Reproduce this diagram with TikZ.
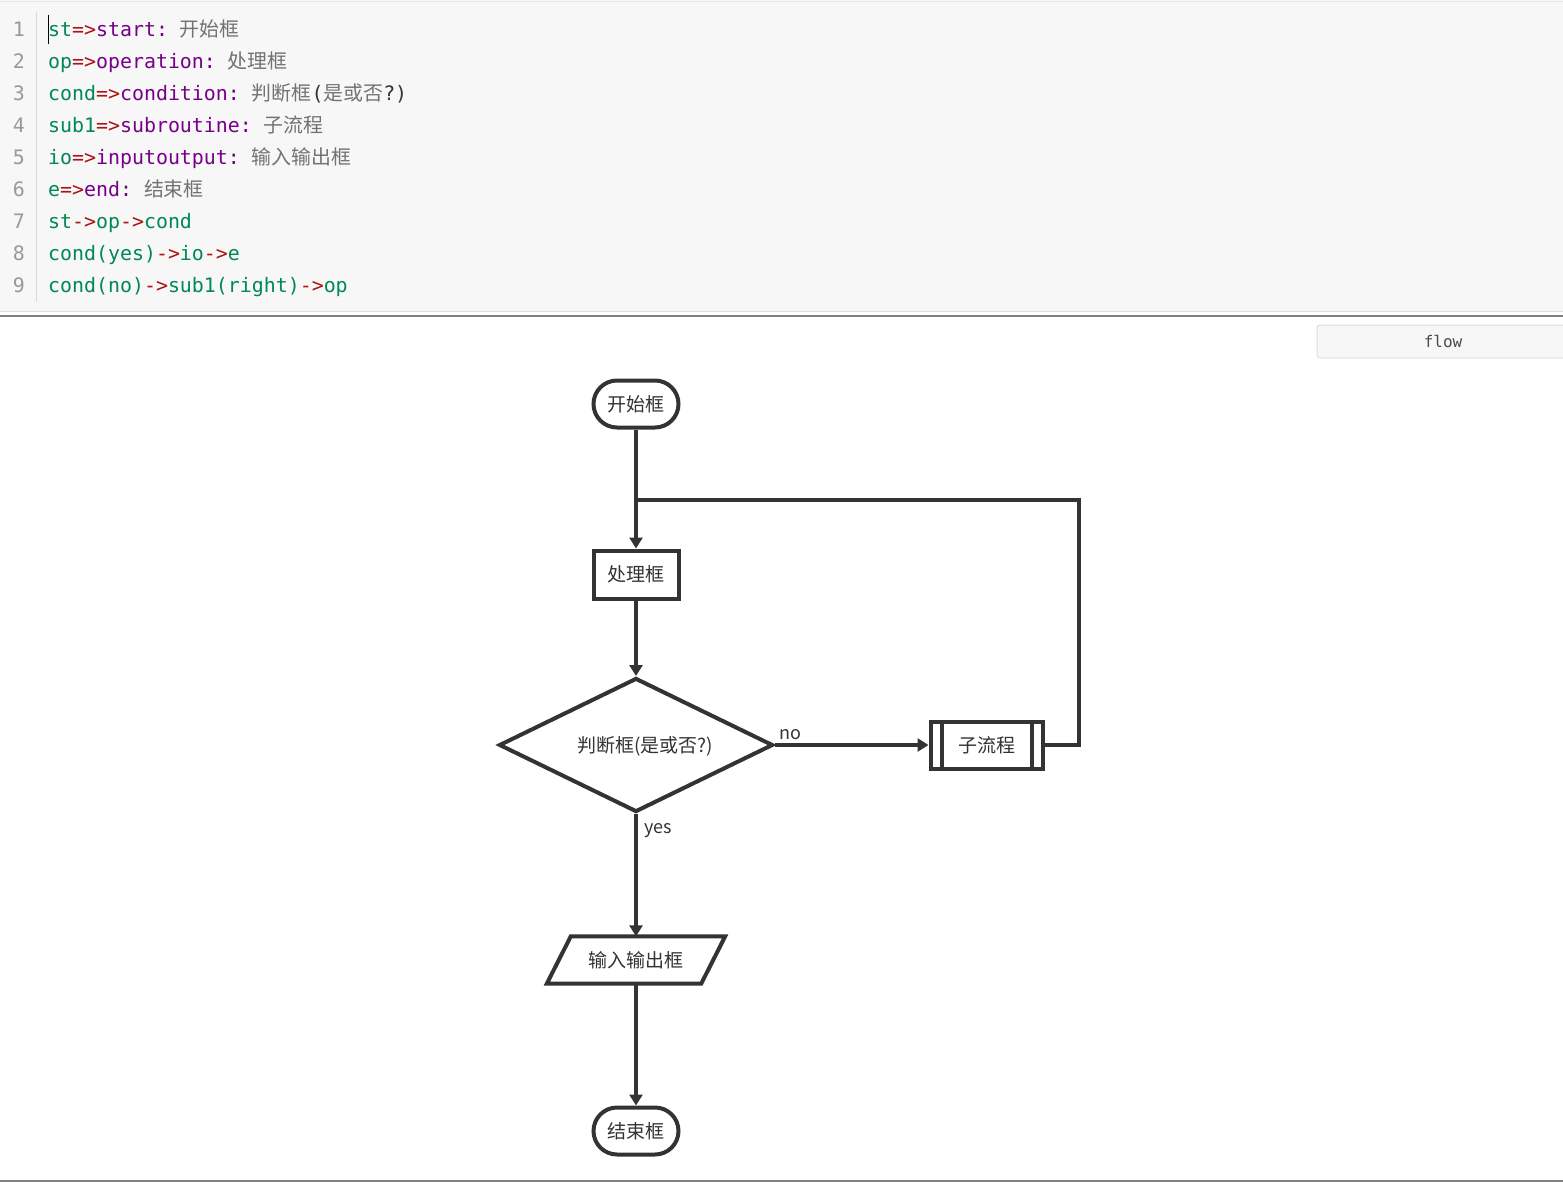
\documentclass[tikz,border=0pt]{standalone}
\usepackage{fontspec}
\setmainfont{Liberation Sans}
\setmonofont{DejaVu Sans Mono}
\newfontfamily\cjk{Noto Sans CJK SC}
\usetikzlibrary{arrows.meta,shapes.geometric,shapes.misc}
\definecolor{cgreen}{HTML}{008855}
\definecolor{cred}{HTML}{AA1111}
\definecolor{cpurple}{HTML}{770088}
\definecolor{ccjk}{HTML}{727272}
\definecolor{lnum}{HTML}{999999}
\definecolor{edbg}{HTML}{F7F7F7}
\definecolor{ink}{HTML}{333333}
\newcommand\cG[1]{\textcolor{cgreen}{#1}}
\newcommand\cR[1]{\textcolor{cred}{#1}}
\newcommand\cP[1]{\textcolor{cpurple}{#1}}
\newcommand\cC[1]{{\cjk\color{ccjk}#1}}
\newcommand\cI[1]{\textcolor{ink}{#1}}
\begin{document}
\begin{tikzpicture}[x=1pt,y=-1pt,
  codeline/.style={anchor=base west,inner sep=0pt,font=\ttfamily\fontsize{19.9}{20}\selectfont},
  linenum/.style={anchor=base east,inner sep=0pt,text=lnum,font=\ttfamily\fontsize{19.9}{20}\selectfont},
  fc/.style={draw=ink,line width=4pt,text=ink,font=\cjk\fontsize{19}{21}\selectfont,inner sep=0pt,fill=white},
  fcline/.style={draw=ink,line width=4pt},
  conn/.style={draw=ink,line width=4pt},
  arr/.style={conn,-{Triangle[length=11pt,width=13pt]}},
  lbl/.style={text=ink,font=\cjk\fontsize{18}{20}\selectfont,inner sep=0pt},
]
\useasboundingbox (0,0) rectangle (1563,1182);
% editor
\fill[edbg] (0,0) rectangle (1563,312);
\draw[draw=black!10,line width=1pt] (0,1.5) -- (1563,1.5);
\draw[draw=black!12,line width=1pt] (0,311.5) -- (1563,311.5);
\draw[draw=black!50,line width=1.5pt] (0,316) -- (1563,316);
\draw[draw=black!15,line width=1pt] (36,12) -- (36,302);
% line numbers
\foreach \i in {1,...,9} {
  \node[linenum] (n\i) at (25,{36.5+32*(\i-1)}) {\i};
}
\node[codeline] (l1) at (48,36.5) {\cG{st}\cR{=>}\cP{start:} \cC{开始框}};
\node[codeline] (l2) at (48,68.5) {\cG{op}\cR{=>}\cP{operation:} \cC{处理框}};
\node[codeline] (l3) at (48,100.5) {\cG{cond}\cR{=>}\cP{condition:} \cC{判断框}\cI{(}\cC{是或否}\cI{?)}};
\node[codeline] (l4) at (48,132.5) {\cG{sub1}\cR{=>}\cP{subroutine:} \cC{子流程}};
\node[codeline] (l5) at (48,164.5) {\cG{io}\cR{=>}\cP{inputoutput:} \cC{输入输出框}};
\node[codeline] (l6) at (48,196.5) {\cG{e}\cR{=>}\cP{end:} \cC{结束框}};
\node[codeline] (l7) at (48,228.5) {\cG{st}\cR{->}\cG{op}\cR{->}\cG{cond}};
\node[codeline] (l8) at (48,260.5) {\cG{cond(yes)}\cR{->}\cG{io}\cR{->}\cG{e}};
\node[codeline] (l9) at (48,292.5) {\cG{cond(no)}\cR{->}\cG{sub1(right)}\cR{->}\cG{op}};
\draw[black,line width=1pt] (48.5,15) -- (48.5,44);
% flow tab
\draw[draw=black!13,fill=edbg,line width=1pt,rounded corners=3pt] (1317,325) rectangle (1575,358);
\node[inner sep=0pt,text=black!70,font=\ttfamily\fontsize{16}{18}\selectfont] (tab) at (1443,341) {flow};
\draw[draw=black!50,line width=1.5pt] (0,1181) -- (1563,1181);
% flowchart
\node[fc,rounded rectangle,minimum width=85pt,minimum height=47pt] (st) at (636,404) {开始框};
\node[fc,rectangle,minimum width=85pt,minimum height=48pt] (op) at (636,574.5) {处理框};
\node[fc,diamond,minimum width=274pt,minimum height=134pt] (cond) at (636,745) {};
\node[lbl,font=\cjk\fontsize{19}{21}\selectfont] (condt) at (645,746) {判断框(是或否?)};
\node[fc,rectangle,minimum width=112pt,minimum height=47pt] (sub) at (986.5,745) {子流程};
\draw[fcline] ([xshift=13pt]sub.north west) -- ([xshift=13pt]sub.south west);
\draw[fcline] ([xshift=-13pt]sub.north east) -- ([xshift=-13pt]sub.south east);
\node[lbl,font=\cjk\fontsize{19}{21}\selectfont,minimum width=130pt,minimum height=47pt] (io) at (636,960) {输入输出框};
\draw[fcline,line join=miter] (io.north west) -- ([xshift=24pt]io.north east) -- (io.south east) -- ([xshift=-24pt]io.south west) -- cycle;
\node[fc,rounded rectangle,minimum width=85pt,minimum height=47pt] (e) at (636,1131) {结束框};
\coordinate (lp) at (1079,500);
\coordinate (jn) at (636,500);
% connectors
\draw[arr] (st.south) -- (op.north);
\draw[conn] (sub.east) -| (lp) -- (jn);
\draw[arr] (op.south) -- (cond.north);
\draw[arr] (cond.east) -- (sub.west);
\draw[arr] (cond.south) -- (io.north);
\draw[arr] (io.south) -- (e.north);
\node[lbl] (no) at (790,735) {no};
\node[lbl] (yes) at (658,831) {yes};
\end{tikzpicture}
\end{document}
